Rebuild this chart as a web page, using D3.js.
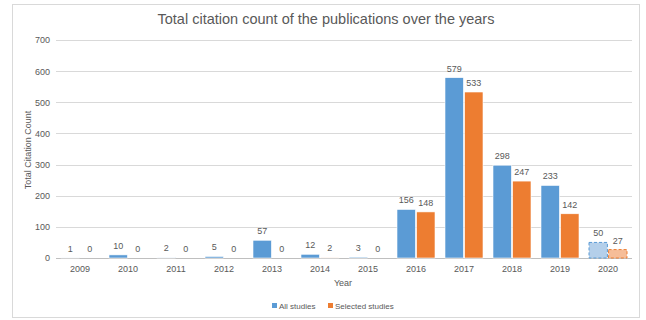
<!DOCTYPE html>
<html>
<head>
<meta charset="utf-8">
<script src="https://cdn.jsdelivr.net/npm/d3@7"></script>
<style>
  body { margin: 0; background: #fff; }
  svg { font-family: "Liberation Sans", "DejaVu Sans", sans-serif; }
</style>
</head>
<body>
<svg id="chart" width="646" height="320"></svg>
<script>
// data
var years = ["2009", "2010", "2011", "2012", "2013", "2014", "2015", "2016", "2017", "2018", "2019", "2020"];
var allStudies = [1, 10, 2, 5, 57, 12, 3, 156, 579, 298, 233, 50];
var selectedStudies = [0, 0, 0, 0, 0, 2, 0, 148, 533, 247, 142, 27];
var yTicks = [0, 100, 200, 300, 400, 500, 600, 700];
var seriesNames = ["All studies", "Selected studies"];
var partialYear = "2020"; // drawn lighter with dashed outline

var colors = ["#5b9bd5", "#ed7d31"];
var lightColors = ["#b4cfea", "#f6bd98"];
var textColor = "#595959";

var svg = d3.select("#chart");
var margin = {left: 56, right: 14, top: 40, bottom: 62};
var W = 646, H = 320;

// outer frame
svg.append("rect")
    .attr("x", 12.5).attr("y", 4.5)
    .attr("width", 627).attr("height", 313)
    .attr("fill", "#fff").attr("stroke", "#d9d9d9");

var x = d3.scaleBand()
    .domain(years)
    .range([margin.left, W - margin.right])
    .paddingInner(0).paddingOuter(0);

var inner = d3.scaleBand()
    .domain([0, 1])
    .range([5, x.bandwidth() - 5])
    .paddingInner(0.06);

var y = d3.scaleLinear()
    .domain([0, 700])
    .range([H - margin.bottom, margin.top]);

// gridlines
svg.append("g").selectAll("line")
    .data(yTicks)
    .enter().append("line")
    .attr("x1", margin.left).attr("x2", W - margin.right)
    .attr("y1", function (d) { return Math.round(y(d)) + 0.5; })
    .attr("y2", function (d) { return Math.round(y(d)) + 0.5; })
    .attr("stroke", function (d) { return d === 0 ? "#bfbfbf" : "#d9d9d9"; })
    .attr("stroke-width", 1);

// y axis labels
var yAxis = d3.axisLeft(y).tickValues(yTicks).tickSize(0).tickPadding(6);
var gy = svg.append("g")
    .attr("transform", "translate(" + margin.left + ",0)")
    .call(yAxis);
gy.select(".domain").remove();
gy.selectAll("text").attr("fill", textColor).style("font-size", "9px")
    .attr("font-family", "Liberation Sans, sans-serif");

// x axis labels
var xAxis = d3.axisBottom(x).tickSize(0).tickPadding(8);
var gx = svg.append("g")
    .attr("transform", "translate(0," + (H - margin.bottom) + ")")
    .call(xAxis);
gx.select(".domain").remove();
gx.selectAll("text").attr("fill", textColor).style("font-size", "9px")
    .attr("font-family", "Liberation Sans, sans-serif");

// bars
var series = [allStudies, selectedStudies];
series.forEach(function (vals, si) {
    var g = svg.append("g");
    g.selectAll("rect")
        .data(years)
        .enter().append("rect")
        .attr("x", function (d) { return x(d) + inner(si); })
        .attr("width", inner.bandwidth())
        .attr("y", function (d, i) { return y(vals[i]); })
        .attr("height", function (d, i) { return y(0) - y(vals[i]); })
        .attr("fill", function (d) { return d === partialYear ? lightColors[si] : colors[si]; })
        .attr("stroke", function (d) { return d === partialYear ? colors[si] : "#fff"; })
        .attr("stroke-width", function (d) { return d === partialYear ? 1 : 0.6; })
        .attr("stroke-dasharray", function (d) { return d === partialYear ? "3,2" : null; });

    g.selectAll("text")
        .data(years)
        .enter().append("text")
        .attr("x", function (d) { return x(d) + inner(si) + inner.bandwidth() / 2; })
        .attr("y", function (d, i) { return y(vals[i]) - 6; })
        .attr("text-anchor", "middle")
        .attr("fill", textColor)
        .style("font-size", "9px")
        .text(function (d, i) { return vals[i]; });
});

// title
svg.append("text")
    .attr("x", 326).attr("y", 24)
    .attr("text-anchor", "middle")
    .attr("fill", textColor)
    .style("font-size", "14.5px")
    .text("Total citation count of the publications over the years");

// axis titles
svg.append("text")
    .attr("transform", "translate(31,150) rotate(-90)")
    .attr("text-anchor", "middle")
    .attr("fill", textColor)
    .style("font-size", "9px")
    .text("Total Citation Count");

svg.append("text")
    .attr("x", 343).attr("y", 286)
    .attr("text-anchor", "middle")
    .attr("fill", textColor)
    .style("font-size", "9px")
    .text("Year");

// legend
var legend = svg.append("g").attr("transform", "translate(272,309)");
var lx = [0, 56];
seriesNames.forEach(function (name, i) {
    legend.append("rect")
        .attr("x", lx[i]).attr("y", -6)
        .attr("width", 5).attr("height", 5)
        .attr("fill", colors[i]);
    legend.append("text")
        .attr("x", lx[i] + 7).attr("y", 0)
        .attr("fill", textColor)
        .style("font-size", "8px")
        .text(name);
});
</script>
</body>
</html>
